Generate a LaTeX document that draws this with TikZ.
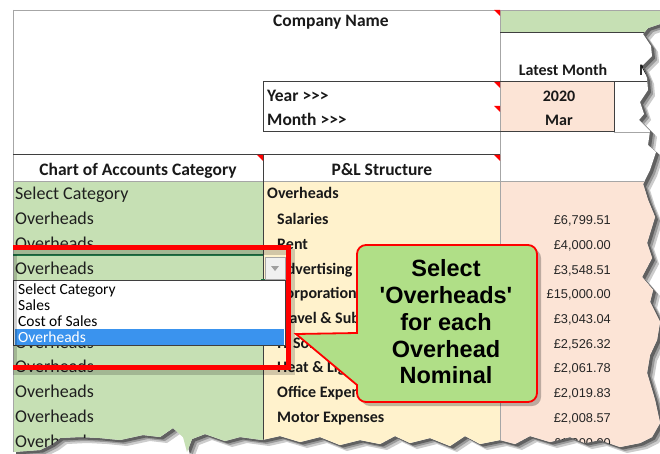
\documentclass[tikz,border=0pt]{standalone}
\usepackage{fontspec}
\setmainfont[Ligatures=TeXOff]{Carlito}
\newfontfamily\arialf[Ligatures=TeXOff]{Liberation Sans}
\definecolor{xgreen}{HTML}{C6E0B4}
\definecolor{xcream}{HTML}{FFF2CC}
\definecolor{xpeach}{HTML}{FCE4D6}
\definecolor{calgreen}{RGB}{176,223,135}
\definecolor{selblue}{HTML}{3A93EE}
\definecolor{xlgreen}{HTML}{217346}
\definecolor{gridc}{HTML}{A6A6A6}
\definecolor{darkc}{HTML}{3F3F3F}
\begin{document}
\begin{tikzpicture}[x=1pt,y=-1pt,
  ca/.style={anchor=base west, inner sep=0, font=\fontsize{18}{20}\selectfont, text=black!88},
  cb/.style={anchor=base west, inner sep=0, font=\bfseries\fontsize{16}{18}\selectfont, text=black!90},
  cc/.style={anchor=base east, inner sep=0, font=\arialf\fontsize{12.8}{14}\selectfont, text=black!85},
  hd/.style={anchor=base, inner sep=0, font=\bfseries\fontsize{17.5}{20}\selectfont, text=black!90},
  hdw/.style={anchor=base west, inner sep=0, font=\bfseries\fontsize{17.5}{20}\selectfont, text=black!90},
  li/.style={anchor=base west, inner sep=0, font=\fontsize{15.5}{17}\selectfont, text=black},
  co/.style={anchor=base, inner sep=0, font=\arialf\bfseries\fontsize{23.5}{27}\selectfont, text=black},
  thingrid/.style={draw=gridc, line width=0.8},
  darkgrid/.style={draw=darkc, line width=1},
  cmt/.style={fill=red, draw=none}]
\useasboundingbox (0,0) rectangle (660,454);
\fill[white] (0,0) rectangle (660,454);
\def\torn{(13,10) -- (660,10) -- (660,24) -- (648,28) -- (643,34) -- (651,46) -- (652,56) -- (642,66) -- (647,78) -- (648,90) -- (640,102) -- (644,114) -- (639,120) -- (650,131) -- (648,145) -- (656,152) -- (650,170) -- (643,184) -- (648,200) -- (655,217) -- (647,243) -- (652,258) -- (642,277) -- (653,290) -- (650,302) -- (660,322) -- (657,340) -- (650,355) -- (647,373) -- (655,400) -- (660,423) -- (652,437) -- (640,443) -- (620,447) -- (600,440) -- (585,443) -- (570,437) -- (550,442) -- (530,436) -- (515,444) -- (500,440) -- (480,444) -- (465,436) -- (450,446) -- (430,438) -- (410,443) -- (395,436) -- (380,444) -- (360,440) -- (340,445) -- (320,437) -- (300,442) -- (280,436) -- (262,440) -- (240,437) -- (225,441) -- (205,434) -- (192,439) -- (187,452) -- (183,437) -- (173,428) -- (160,437) -- (143,435) -- (120,440) -- (100,438) -- (80,437) -- (60,438) -- (52,444) -- (40,450) -- (13,452) -- cycle}
% torn-edge shadow
\fill[black!20, shift={(7,6)}] \torn;
\fill[black!40, shift={(5,4)}] \torn;
\fill[black!62, shift={(3,2.5)}] \torn;
\begin{scope}
\clip \torn;
\fill[white] (0,0) rectangle (670,470);
% cell fills
\fill[xgreen] (500,10) rectangle (670,33);
\fill[xpeach] (500,82) rectangle (614,132);
\fill[xgreen] (13,181) rectangle (263,470);
\fill[xcream] (263,181) rectangle (500,470);
\fill[xpeach] (500,181) rectangle (670,470);
% grid lines
\draw[thingrid] (13,10) -- (670,10);
\draw[thingrid] (13,10) -- (13,470);
\draw[thingrid] (500,10) -- (500,470);
\draw[darkgrid] (500,33) -- (670,33);
\draw[darkgrid] (263,82) -- (670,82);
\draw[darkgrid] (263,82) -- (263,132);
\draw[darkgrid] (263,132) -- (614,132);
\draw[darkgrid] (614,82) -- (614,132);
\draw[thingrid] (614,132) -- (670,132);
\draw[darkgrid] (13,155) -- (500,155);
\draw[thingrid] (13,181) -- (670,181);
\draw[darkgrid] (263,155) -- (263,470);
% comment markers
\fill[cmt] (494,10) -- (500,10) -- (500,16) -- cycle;
\fill[cmt] (494,82) -- (500,82) -- (500,88) -- cycle;
\fill[cmt] (494,106) -- (500,106) -- (500,112) -- cycle;
\fill[cmt] (257,155) -- (263,155) -- (263,161) -- cycle;
\fill[cmt] (494,155) -- (500,155) -- (500,161) -- cycle;
% header texts
\node[hdw] (company) at (273,27) {Company Name};
\node[hd] (latest) at (563,76) {\fontsize{16}{18}\selectfont Latest Month};
\node[hdw] (nextm) at (639,76) {\fontsize{16}{18}\selectfont M};
\node[hdw] (year) at (267,102) {Year >>>};
\node[hdw] (month) at (267,126) {Month >>>};
\node[hd] (yv) at (559,102) {\fontsize{16}{18}\selectfont 2020};
\node[hd] (mv) at (559,126) {\fontsize{16}{18}\selectfont Mar};
\node[hd] (hca) at (138,176) {Chart of Accounts Category};
\node[hd] (hpl) at (382,176) {P\&L Structure};
% column A
\node[ca] (a0) at (15,200) {Select Category};
\node[ca] (a1) at (15,224.7) {Overheads};
\node[ca] (a2) at (15,249.4) {Overheads};
\node[ca] (a3) at (15,274.1) {Overheads};
\node[ca] (a6) at (15,348.2) {Overheads};
\node[ca] (a7) at (15,372.9) {Overheads};
\node[ca] (a8) at (15,397.6) {Overheads};
\node[ca] (a9) at (15,422.3) {Overheads};
\node[ca] (a10) at (15,447) {Overheads};
% column B
\node[cb] (b0) at (267,199) {Overheads};
\node[cb] (b1) at (277,224.7) {Salaries};
\node[cb] (b2) at (277,249.4) {Rent};
\node[cb] (b3) at (277,274.1) {Advertising};
\node[cb] (b4) at (277,298.8) {Corporation Tax};
\node[cb] (b5) at (277,323.5) {Travel \& Subsistence};
\node[cb] (b6) at (277,348.2) {IT Software};
\node[cb] (b7) at (277,372.9) {Heat \& Light};
\node[cb] (b8) at (277,397.6) {Office Expenses};
\node[cb] (b9) at (277,422.3) {Motor Expenses};
% column C
\node[cc] (c1) at (611,224.7) {£6,799.51};
\node[cc] (c2) at (611,249.4) {£4,000.00};
\node[cc] (c3) at (611,274.1) {£3,548.51};
\node[cc] (c4) at (611,298.8) {£15,000.00};
\node[cc] (c5) at (611,323.5) {£3,043.04};
\node[cc] (c6) at (611,348.2) {£2,526.32};
\node[cc] (c7) at (611,372.9) {£2,061.78};
\node[cc] (c8) at (611,397.6) {£2,019.83};
\node[cc] (c9) at (611,422.3) {£2,008.57};
\node[cc] (c10) at (611,447) {£1,900.00};
% active cell and dropdown
\draw[xlgreen, line width=1.3] (13,255) -- (263,255);
\fill[xlgreen] (261,279) rectangle (265,283);
\draw[gray!70, fill=gray!12] (265,257) rectangle (285,279);
\fill[gray!75] (271,266) -- (279,266) -- (275,271) -- cycle;
\draw[darkc, line width=0.9, fill=white] (13.5,280.5) rectangle (285,345.5);
\fill[selblue] (14.5,329) rectangle (284,344.5);
\node[li] (l1) at (18,294) {Select Category};
\node[li] (l2) at (18,310) {Sales};
\node[li] (l3) at (18,326) {Cost of Sales};
\node[li, text=white] (l4) at (18,342) {Overheads};
% red highlight box
\draw[black, opacity=0.18, line width=6] (13.5,251.5) rectangle (292,371.5);
\draw[red, line width=5] (10,247.5) rectangle (288.5,367.5);
% callout
\fill[black, opacity=0.25, shift={(4,4)}] (357,385) -- (296,334) -- (357,333) [rounded corners=9] -- (357,245) -- (537,245) -- (537,402) -- (357,402) [sharp corners] -- cycle;
\filldraw[fill=calgreen, draw=red, line width=1.8] (357,385) -- (296,334) -- (357,333) [rounded corners=9] -- (357,245) -- (537,245) -- (537,402) -- (357,402) [sharp corners] -- cycle;
\node[co] (t1) at (446,276) {Select};
\node[co] (t2) at (446,303.5) {'Overheads'};
\node[co] (t3) at (446,330) {for each};
\node[co] (t4) at (446,357) {Overhead};
\node[co] (t5) at (446,383) {Nominal};
\end{scope}
\end{tikzpicture}
\end{document}
